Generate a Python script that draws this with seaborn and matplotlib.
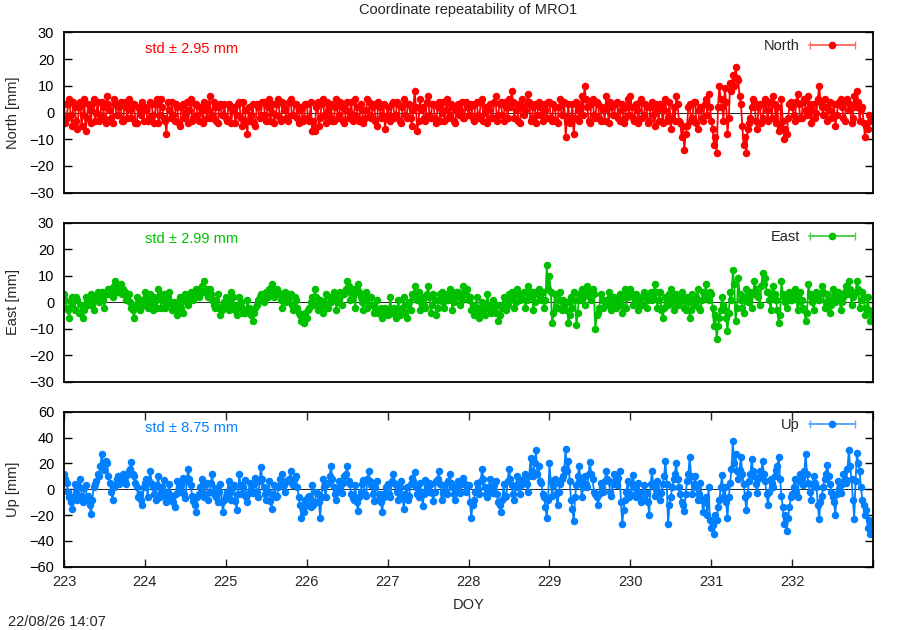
import numpy as np
import pandas as pd
import matplotlib
matplotlib.use("Agg")
import matplotlib.pyplot as plt
from matplotlib.legend_handler import HandlerErrorbar
from matplotlib.container import ErrorbarContainer
import seaborn as sns

# ---------------- data ----------------
# Samples every 1/60 day; "_even" holds the samples at even indices, "_odd" the ones in between.
doy_start = 223
samples_per_day = 60

north_mm_even = [
    3, -2, 5, -5, 2, -6, 4, -1, -7, 3, -4, 5, 0, -3, 4, -2, 6, 1, -4, 3, -1, 4, -3, 2, 5, -2, 3, -4, 1, 4,
    2, -3, 4, -1, 3, -4, 5, -2, -8, 1, 4, -3, 2, -5, 3, 0, -4, 5, -2, 3, -3, 1, 4, -2, 6, -1, 2, -4, 3, -1,
    -2, 3, -4, 2, -1, 4, -5, 1, -8, -3, 3, -5, 2, -1, 4, -3, 5, 0, -4, 3, -2, 4, 1, -3, 5, -1, 3, -4, 2, -2,
    3, -3, -7, -7, 4, -2, 5, -4, 1, 3, -3, 5, -1, 2, -4, 4, 0, -3, 5, -2, 3, -4, 1, 4, -2, 3, -5, 2, -1, -6,
    2, -3, 4, -1, 3, -4, 5, -2, 3, -5, 8, -7, 5, 2, -3, 6, -2, 3, -4, 4, 0, -3, 5, -1, 2, -4, 3, 1, -2, 4,
    -1, 3, -3, 4, -2, 5, 0, -4, 3, -2, 6, -1, 4, -3, 2, 5, 8, -2, 3, -4, 5, 1, 7, -3, 2, -4, 4, -1, 3, -2,
    4, -3, 2, -4, 5, -1, -9, 3, -2, -8, 4, -3, 6, 10, 2, -4, 5, -2, 3, -3, 1, 6, -4, 2, -1, 4, -3, 3, -2, 5,
    6, -2, 3, -4, 5, -1, 2, -3, 4, -5, 1, 3, -4, 5, -2, -6, 2, 6, -3, -9, -14, -5, 3, -2, 4, -6, 2, -3, 5, 7,
    -3, -12, -15, 10, 2, 9, -8, 11, 14, 17, 12, 3, -12, -15, -4, 2, 4, -6, 3, -2, 5, -3, 4, 6, -4, -7, 5, -10, -8, 3,
    2, -3, 7, -2, 4, 1, 6, -4, 3, 0, 10, 2, 5, -3, 4, -1, -5, 3, 5, -2, 4, 1, -4, 6, 8, -3, 2, -9, -6, -3,
]
north_mm_odd = [
    -4, 3, -1, 4, -3, 2, -5, 5, -2, 1, 3, -3, 4, -1, 2, -4, 3, -2, 5, -1, 2, -3, 4, -2, 1, 3, -4, 2, -1, -3,
    1, -2, 3, -4, 5, -1, 2, -3, 4, -2, -1, 3, -4, 2, -2, 4, 1, -3, 3, -1, 2, -4, 3, 1, -2, 4, -3, 2, -1, 3,
    -3, 2, 1, -4, 3, -2, 4, -3, 2, -1, -4, 3, -2, 4, -1, 2, -3, 3, -1, 5, -3, 2, -2, 4, -1, 3, -2, 1, -3, 3,
    -2, 4, -3, 2, -5, 3, -1, 4, -2, -3, 2, -2, 4, -3, 1, -2, 4, -1, 2, -3, 1, -2, 5, -1, 2, -3, 4, -2, 3, -2,
    -1, 3, -2, 4, -3, 2, -1, 3, -2, 1, 2, -3, 1, -2, 4, -1, 3, -2, 2, -3, 4, 1, -2, 3, -3, 1, -1, 4, -2, 2,
    2, -2, 3, -1, 4, -3, 2, 1, -2, 4, -3, 3, -1, 4, -2, 2, 4, 1, -3, 2, -1, 3, 4, -2, 3, -1, 2, -3, 1, 4,
    -2, 3, -3, 2, -1, 4, -3, -4, 3, -2, 1, 2, -1, 5, -3, 3, -1, 4, -2, 2, -3, 2, 4, -1, 3, -2, 1, -4, 2, -1,
    2, -3, 1, 4, -2, 3, -4, 2, -1, 3, -3, 2, 1, -3, 4, -2, -3, 3, -4, -5, -8, 2, -3, 4, -4, 1, -2, 3, -1, 2,
    -6, -9, 2, 5, -3, 4, -2, 8, 10, 13, 6, -5, -9, -6, -2, 5, -3, 2, -4, 3, 1, 4, -2, 3, 2, -5, -3, -6, -2, 4,
    -1, 4, 3, -2, 5, -1, 3, 1, -2, 5, 4, -1, 2, 1, -2, 3, -1, 4, 2, -3, 5, 3, -2, 2, 4, 1, -4, -5, -1, -2,
]

east_mm_even = [
    3, -2, -6, 2, -3, 1, -4, -6, 2, -1, 3, -3, 2, 0, 4, -2, 3, 5, 2, 8, 4, 7, 5, 1, 3, -2, -6, 2, -3, 1,
    4, -2, 3, -3, 1, 5, -2, 3, -1, 4, -3, 0, -5, 2, -4, 3, -1, 4, 1, 5, 2, 6, 8, 3, 5, 1, -2, 3, -5, -1,
    2, -3, 4, -1, -5, 2, -2, -4, 1, -3, -7, -2, 1, 3, 0, 4, 5, 7, 2, 5, 3, -2, 4, 1, 3, -3, 1, -4, -7, -8,
    -6, -2, 2, 5, -3, 1, -4, 3, -2, 0, 4, -3, 2, -1, 3, 8, 1, 5, -2, 7, 2, -3, 4, -1, 2, -4, 1, -3, -6, -2,
    -5, 2, -3, -6, 1, -4, 2, -6, 0, 3, 6, 1, -3, 2, -2, 6, -4, 3, -5, 1, 4, -2, 3, 5, -3, 2, 4, -1, 6, 3,
    1, -3, -5, 2, -6, 0, -5, 3, -2, 1, -4, -7, -1, 2, -3, 3, 4, -2, 5, 1, 3, -2, 6, 2, -3, 4, 5, 1, -2, 14,
    10, -8, 3, -2, 4, 1, -3, -8, 2, 4, -8.5, 3, 5, -1, 6, 2, 5, -10, -4, 3, -2, 1, 4, -3, 2, -1, 3, -4, 5, 2,
    5, -1, 3, -3, 2, 4, -2, 3, 1, 7, -2, 4, -6, 2, -1, 5, -3, 3, 0, 4, -2, 2, -6, 3, -1, 5, -3, 4, 7, 1,
    3, -9, -14, -6, 2, -3, -11, 4, 12, -7, 9, 1, -4, 5, 2, -2, 8, 3, -1, 11, 9, 4, -3, 6, 1, -8, 8, 2, -2, 4,
    1, 5, -3, 4, -2, -7, 7, 2, -3, 4, 1, 6, -2, 3, -4, 5, 0, 4, -3, 2, 6, 8, -1, 3, 8, -2, 4, -5, 2, -7,
]
east_mm_odd = [
    1, -3, 0, -2, 2, -4, -1, -3, 0, 2, -1, 1, 4, 2, 1, 3, 5, 3, 6, 4, 6, 3, 4, 2, 0, -3, -1, -2, 1, -1,
    2, 0, -1, 2, -2, 3, 1, -2, 2, 0, -2, -3, -1, -2, 1, 0, 2, 3, 4, 3, 5, 4, 5, 2, 3, -1, 1, -2, -3, 0,
    -1, 1, 2, -3, -2, 0, -4, -3, -2, -5, -4, -1, 2, 1, 3, 2, 4, 5, 3, 4, 1, 2, 0, 3, -1, 2, -2, -5, -6, -4,
    -3, 0, -1, 2, 1, -1, 0, -2, 2, 1, 2, 0, 4, 3, 5, 6, 4, 3, 5, 4, 0, 1, -2, 2, -1, -2, -4, -2, -5, -4,
    -3, -4, -2, -3, -5, -2, -4, -1, -3, 2, 2, 4, 0, -1, 3, 2, -1, 1, -2, 3, 0, 2, 1, 3, 0, 4, 2, 1, 3, 5,
    2, -1, -3, -2, -4, -3, -2, -1, -4, -3, -1, -5, -2, 0, -1, 1, 2, 0, 3, 2, 4, 1, 3, 4, 0, 3, 2, 4, 1, 5,
    4, -4, -2, 1, -3, -1, 0, -5, -2, 1, -4, 1, 2, 3, 4, 1, 3, -5, -2, 1, 0, -1, 2, 0, -2, 1, -1, 2, -2, 3,
    3, 2, 0, 1, -1, 2, 1, 4, 2, 4, 1, -3, -2, 1, 3, 0, 2, -1, 2, 1, -3, 0, -3, 1, 2, -2, 1, 2, 3, 4,
    -2, -5, -9, -3, -1, -6, -4, 1, 7, -2, 3, -2, 2, 0, 4, 3, 5, 2, 6, 7, 4, 1, 2, 3, -3, -5, 3, 0, 3, 1,
    3, 2, 0, 1, -3, -4, 3, 0, 2, 1, 3, 4, 0, 1, -1, 2, 3, 1, 0, 4, 3, 5, 2, 4, 5, 1, 2, -2, -3, -4,
]

up_mm_even = [
    12, 5, -6, -15, 4, -8, 8, -10, 3, -5, -19, 2, 6, 10, 27, 15, 20, 5, -8, 3, 10, 6, 12, 4, 14, 21, 10, 2, -4, -12,
    5, -6, 14, 2, -8, 10, -3, 7, -10, 4, -5, -14, 6, -2, 9, -7, 16, 3, -9, -18, -4, 8, -6, 5, -2, 12, 1, -10, 4, -18,
    -5, 6, -8, 3, -16, 12, -4, 7, -10, 5, -3, 9, -6, 17, 2, -8, 6, -15, 3, -5, 8, 12, -2, 6, 14, 3, 10, -6, -22, -18,
    -12, -5, 3, -10, -4, -22, 8, -6, 5, 18, 2, -8, 6, -3, 10, 18, 4, -7, 3, -17, -2, 7, -5, 14, 3, -9, 6, -4, -18, -3,
    4, -6, 12, 3, -8, 6, -15, 2, -5, 9, 13, -4, 5, -13, 7, -2, 4, -9, 6, 14, -8, 3, -4, 12, 2, -8, 6, -3, 9, -2,
    3, -22, -8, 5, -4, 16, 2, -6, 8, -3, 6, -10, -18, 4, -5, 16, 3, -8, 10, -4, 7, 12, -2, 24, 10, 30, 18, 5, -6, -22,
    20, -5, 8, -12, 4, 10, 31, 22, -8, -25, 3, 18, -6, 10, 2, 21, 8, -4, -12, 5, -2, 14, 6, -5, 12, 3, 14, -27, -8, 6,
    -4, 11, -6, 5, -10, 3, -3, -20, 14, -5, 6, -8, 4, 22, -27, -6, 8, 20, 2, -10, -17, 6, 25, -4, 10, -8, 5, -18, -6, 2,
    -30, -35, -24, -8, 11, 2, -22, 5, 37, 27, 8, 25, 4, -16, 6, 23, 10, -3, 14, 22, 6, -12, 8, 2, 15, 25, -5, -27, -32, -14,
    -4, 8, -6, 12, 3, 27, 5, -8, 10, 2, -23, -5, 8, 19, 4, -6, -20, 6, -3, 12, 5, 30, 8, -23, 28, 14, -8, -20, -30, -35,
]
up_mm_odd = [
    8, -2, -10, -6, -3, 2, -5, 1, -8, -12, -8, 4, 12, 18, 20, 22, 10, -2, 2, 8, 4, 9, 6, 11, 16, 12, 5, -6, -8, 2,
    8, 6, 4, -4, 3, -6, 2, -5, -2, -8, -10, -4, 1, 3, -4, 6, 8, -5, -12, -6, 2, -3, 4, -8, 5, -4, -6, -2, -10, -8,
    -2, -3, 2, -9, -4, 3, 2, -6, -3, 0, 4, -2, 6, 8, -4, -2, -9, -4, -6, 2, 5, 3, 6, 8, 5, 9, 2, -12, -15, -8,
    -6, -14, -12, -2, -10, -6, 2, 4, 10, 8, -4, 0, 2, 5, 12, 6, -4, -8, -10, -6, 4, -4, 8, 6, -4, 2, -8, -10, -6, 2,
    -4, 6, 5, -2, 2, -6, -4, -8, 4, 6, 2, -6, -2, -4, 0, 5, -3, -2, 8, 4, -3, -2, 6, 5, -4, 2, -2, 4, 5, 2,
    -10, -12, -2, 0, 6, 8, -4, 2, -2, 3, -4, -12, -8, -6, 6, 8, -4, 2, 4, 3, 8, 4, 10, 14, 20, 12, 6, -4, -14, -8,
    6, 3, -4, -2, 8, 16, 14, 6, -15, -6, 10, 6, 2, 4, 12, 12, -2, -6, -4, 2, 6, 8, -2, 4, 8, 9, -10, -16, -2, -6,
    4, 2, -2, -4, -3, -8, -10, 4, 3, 2, -2, -3, 10, 4, -12, 2, 12, 8, -4, -12, -4, 12, 10, 4, 2, -4, -8, -10, -20, -24,
    -28, -20, -14, 2, -6, -10, -6, 16, 20, 14, 15, 12, -6, -4, 12, 14, 4, 8, 10, 12, -4, -2, 5, 10, 18, 8, -14, -20, -22, -6,
    2, -2, 6, 8, 14, 12, -2, 4, 5, -12, -10, 2, 12, 10, -2, -10, -4, 0, 4, 8, 16, 18, -8, 6, 20, 2, -12, -16, -24, -28,
]

components = ["North", "East", "Up"]
std_values = ["2.95", "2.99", "8.75"]
colors = ["#ff0000", "#00c000", "#0080ff"]
legend_line_colors = ["#ff7070", "#50d050", "#60a8ff"]
y_limits = [(-30, 30), (-30, 30), (-60, 60)]
y_steps = [10, 10, 20]
day_ticks = list(range(223, 234))
day_labels = [str(d) for d in range(223, 233)] + [""]
title = "Coordinate repeatability of MRO1"
timestamp = "22/08/26 14:07"

# ---------------- styling ----------------
sns.set_theme(style="white")
plt.rcParams["font.family"] = ["Liberation Sans", "DejaVu Sans"]
plt.rcParams["font.size"] = 10
plt.rcParams["axes.edgecolor"] = "black"
plt.rcParams["axes.linewidth"] = 1.3


def merge(even, odd):
    return np.column_stack([even, odd]).ravel()


north = merge(north_mm_even, north_mm_odd)
east = merge(east_mm_even, east_mm_odd)
up = merge(up_mm_even, up_mm_odd)
n = len(north)
doy = doy_start + np.arange(n) / samples_per_day
df = pd.DataFrame({"DOY": doy, "North": north, "East": east, "Up": up})

fig = plt.figure(figsize=(9, 6.3), dpi=100)
rects = [
    [0.0711, 0.6941, 0.899, 0.2546],
    [0.0711, 0.3941, 0.899, 0.2524],
    [0.0711, 0.1005, 0.899, 0.2460],
]

for i, comp in enumerate(components):
    ax = fig.add_axes(rects[i])
    ax.axhline(0, color="black", lw=0.6, zorder=0.5)
    sns.lineplot(data=df, x="DOY", y=comp, ax=ax, color=colors[i], lw=1.3,
                 marker="o", markersize=5.4, markeredgewidth=0, errorbar=None,
                 legend=False, zorder=2)
    # legend proxy in gnuplot errorlines style
    proxy = ax.errorbar([np.nan], [np.nan], xerr=[1.0], fmt="-", color=legend_line_colors[i],
                        ecolor=legend_line_colors[i], marker="o", markersize=4.5,
                        markerfacecolor=colors[i], markeredgecolor=colors[i],
                        capsize=3, lw=1.3, elinewidth=1.3, label=comp)
    ax.legend(handles=[proxy], loc="upper right", bbox_to_anchor=(1 - 18 / 809, 1 - 7 / 160),
              frameon=False, markerfirst=False, numpoints=1, handlelength=3.15,
              handletextpad=0.65, borderpad=0, borderaxespad=0, fontsize=10.5,
              handler_map={ErrorbarContainer: HandlerErrorbar(xerr_size=1.55, numpoints=1)})

    ax.set_xlim(223, 233)
    lo, hi = y_limits[i]
    ax.set_ylim(lo, hi)
    ax.set_yticks(np.arange(lo, hi + 1, y_steps[i]))
    ax.tick_params(axis="y", direction="in", length=5.5, width=1, left=True, right=True,
                   pad=7, labelsize=10.5, colors="black")
    ax.set_ylabel(f"{comp} [mm]", fontsize=10.5)
    ax.yaxis.set_label_coords(-0.054, 0.5)
    ax.text(0.100, 0.895, f"std \u00b1 {std_values[i]} mm", transform=ax.transAxes,
            color=colors[i], fontsize=10.5, ha="left", va="center")
    ax.set_xticks(day_ticks)
    if i < 2:
        ax.tick_params(axis="x", bottom=False, top=False, labelbottom=False)
        ax.set_xlabel("")
    else:
        ax.set_xticklabels(day_labels)
        ax.tick_params(axis="x", direction="in", length=5.5, width=1, bottom=True, top=True,
                       pad=6, labelsize=10.5)
        ax.set_xlabel("DOY", fontsize=10.5)
        ax.xaxis.set_label_coords(0.5, -0.2)

fig.text(0.0711 + 0.899 / 2, 1 - 10 / 630, title, ha="center", va="center", fontsize=10.5)
fig.text(8 / 900, 1 - 622 / 630, timestamp, ha="left", va="center", fontsize=10.5)

fig.savefig("out.png", dpi=100)
